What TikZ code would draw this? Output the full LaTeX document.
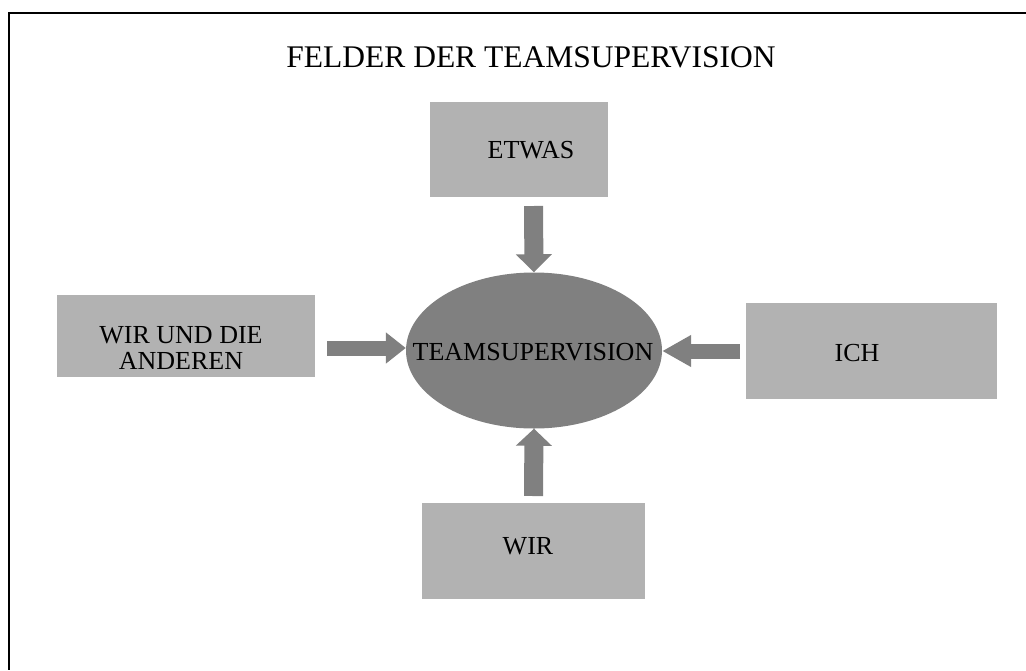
\documentclass[tikz,border=0pt]{standalone}
\usepackage{fontspec}
\setmainfont{Liberation Serif}
\usetikzlibrary{arrows.meta,shapes.geometric}
\definecolor{boxgray}{HTML}{B2B2B2}
\definecolor{coregray}{HTML}{808080}
\begin{document}
\begin{tikzpicture}[x=1pt,y=-1pt,
  field/.style={rectangle,fill=boxgray,draw=none,inner sep=0pt},
  label/.style={anchor=base,inner sep=0pt,font=\fontsize{26}{26}\selectfont,align=center},
  core/.style={ellipse,fill=coregray,draw=none,inner sep=0pt,minimum width=256pt,minimum height=156pt},
  blockarrow/.style={draw=coregray,line width=16pt,
    -{Triangle[width=32pt,length=19pt]},color=coregray}]
\useasboundingbox (0,0) rectangle (1026,670);
\fill[white] (0,0) rectangle (1026,670);
% outer frame (top and left edges)
\draw[line width=2pt] (1026,12.5) -- (8.5,12.5) -- (8.5,670);
% title
\node[label,font=\fontsize{31.5}{31.5}\selectfont] (title) at (531,67) {FELDER DER TEAMSUPERVISION};
% field boxes
\node[field,minimum width=178pt,minimum height=95pt] (etwas) at (519,149.5) {};
\node[field,minimum width=258pt,minimum height=82pt] (andere) at (186,336) {};
\node[field,minimum width=251pt,minimum height=96pt] (ich) at (871,351) {};
\node[field,minimum width=223pt,minimum height=96pt] (wir) at (533.5,551) {};
% box texts
\node[label] (etwasT) at (531,158) {ETWAS};
\node[label] (andereT1) at (181,343) {WIR UND DIE};
\node[label] (andereT2) at (181,369) {ANDEREN};
\node[label] (ichT) at (857,361) {ICH};
\node[label] (wirT) at (528,554) {WIR};
% centre ellipse
\node[core] (ell) at (534,350.5) {};
\node[label] (ellT) at (533,360) {TEAMSUPERVISION};
% arrow start points
\coordinate (sTop) at (533.5,206);
\coordinate (sBot) at (533.5,496);
\coordinate (sLeft) at (327,348);
\coordinate (sRight) at (740,351);
% block arrows pointing to the centre
\draw[blockarrow,line width=19pt,-{Triangle[width=35pt,length=18pt]}] (sTop) -- (ell.north);
\draw[blockarrow,line width=19pt,-{Triangle[width=35pt,length=17pt]}] (sBot) -- (ell.south);
\draw[blockarrow,line width=15pt,-{Triangle[width=30pt,length=20pt]}] (sLeft) -- (ell.west |- sLeft);
\draw[blockarrow,line width=15pt,-{Triangle[width=30pt,length=29pt]}] (sRight) -- (ell.east |- sRight);
\end{tikzpicture}
\end{document}
